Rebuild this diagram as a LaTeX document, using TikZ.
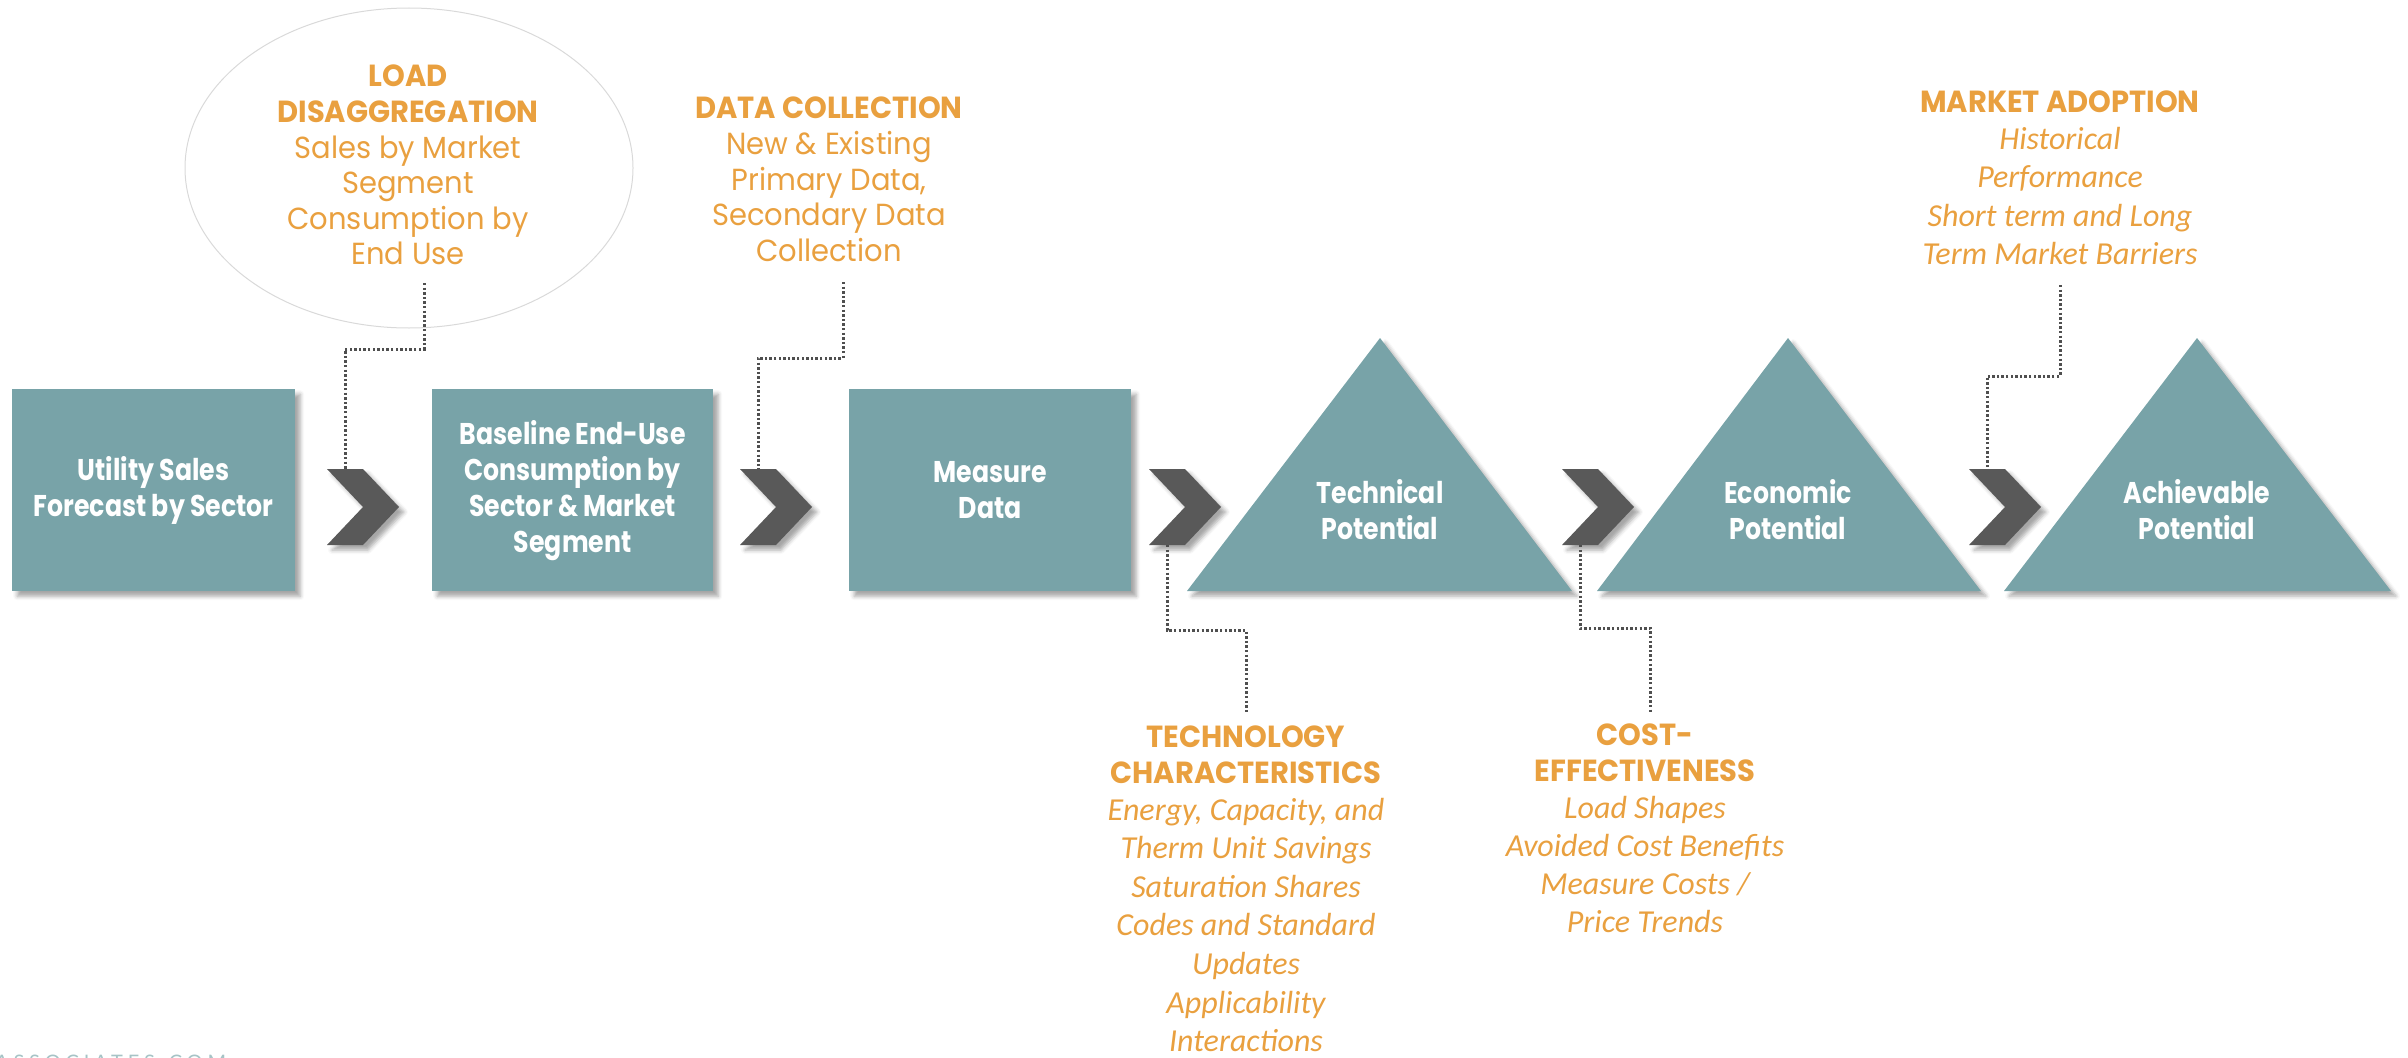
\documentclass[tikz,border=0pt]{standalone}
\usepackage{fontspec}
\setmainfont{Poppins}
\newfontfamily\gothic[FakeStretch=0.95]{Poppins}
\newfontfamily\gothicbox[FakeStretch=0.84]{Poppins}
\newfontfamily\calib{Carlito}
\newfontfamily\webfont{Lato}
\usetikzlibrary{shadows.blur,shapes.geometric}

\definecolor{tealbox}{HTML}{78A3A8}
\definecolor{chevgray}{HTML}{595959}
\definecolor{orangetxt}{HTML}{E9A03F}
\definecolor{dotgray}{HTML}{4F4F4F}
\definecolor{webteal}{HTML}{A6C3C6}

\tikzset{
  softshadow/.style={blur shadow={shadow xshift=5pt, shadow yshift=-5pt,
      shadow blur radius=4pt, shadow opacity=35}},
  stepbox/.style={fill=tealbox, softshadow, inner sep=0pt,
      minimum height=202pt, anchor=north west, align=center,
      text=white, font=\gothicbox\bfseries\fontsize{30}{36}\selectfont},
  potential/.style={fill=tealbox, softshadow},
  steplabel/.style={text=white, align=center, inner sep=0pt,
      font=\gothicbox\bfseries\fontsize{30}{36}\selectfont},
  chev/.style={fill=chevgray, softshadow},
  note/.style={text=orangetxt, align=center, inner sep=0pt, anchor=north,
      font=\gothic\fontsize{30.5}{35.6}\selectfont},
  conn/.style={draw=dotgray, line width=3pt, dash pattern=on 2.4pt off 2.2pt},
}

\newcommand{\hd}[1]{{\bfseries #1}}
\newcommand{\ital}{\calib\itshape\fontsize{32}{35.6}\selectfont}

\begin{document}
\begin{tikzpicture}[x=1pt,y=-1pt]
\useasboundingbox (0,0) rectangle (2408,1057);

% ---- rectangular stages
\node[stepbox, minimum width=283pt] (sales) at (12,389)
  {Utility Sales\\Forecast by Sector};
\node[stepbox, minimum width=281pt] (baseline) at (432,389)
  {Baseline End-Use\\Consumption by\\Sector \& Market\\Segment};
\node[stepbox, minimum width=282pt] (measure) at (849,389)
  {Measure\\Data};

% ---- potential triangles
\fill[potential] (1380,338) -- (1572,591) -- (1187,591) -- cycle;
\node[steplabel] (technical) at (1380,510) {Technical\\Potential};
\fill[potential] (1788,338) -- (1981,591) -- (1597,591) -- cycle;
\node[steplabel] (economic) at (1788,510) {Economic\\Potential};
\fill[potential] (2197,338) -- (2391,591) -- (2004,591) -- cycle;
\node[steplabel] (achievable) at (2197,510) {Achievable\\Potential};

% ---- chevrons between stages
\foreach \n/\x in {1/327,2/740,3/1149,4/1562,5/1969}{
  \coordinate (chv\n) at (\x,469);
  \fill[chev] (chv\n) -- ++(36,0) -- ++(36,38) -- ++(-36,38) -- ++(-36,0)
     -- ++(36,-38) -- cycle;
}
\coordinate (chv1top) at (345,469);
\coordinate (chv2top) at (758,469);
\coordinate (chv5top) at (1987,469);
\coordinate (chv3bot) at (1167,545);
\coordinate (chv4bot) at (1580,545);

% ---- input notes
\node[draw=black!15, line width=1pt, ellipse, minimum width=448pt,
      minimum height=320pt] (cloud) at (409,168) {};
\node[note] (loadnote) at (408,65)
  {\hd{LOAD}\\\hd{DISAGGREGATION}\\Sales by Market\\Segment\\Consumption by\\End Use};
\node[note] (datanote) at (829,97)
  {\hd{DATA COLLECTION}\\New \& Existing\\Primary Data,\\Secondary Data\\Collection};
\node[note] (marketnote) at (2060,91)
  {\hd{MARKET ADOPTION}\\[1pt]{\ital Historical}\\[2.8pt]{\ital Performance}\\[2.8pt]
   {\ital Short term and Long}\\[2.8pt]{\ital Term Market Barriers}};
\node[note] (technote) at (1246,726)
  {\hd{TECHNOLOGY}\\\hd{CHARACTERISTICS}\\[1pt]{\ital Energy, Capacity, and}\\[3pt]
   {\ital Therm Unit Savings}\\[3pt]{\ital Saturation Shares}\\[3pt]
   {\ital Codes and Standard}\\[3pt]{\ital Updates}\\[3pt]{\ital Applicability}\\[3pt]
   {\ital Interactions}};
\node[note] (costnote) at (1645,724)
  {\hd{COST-}\\\hd{EFFECTIVENESS}\\[1pt]{\ital Load Shapes}\\[2.5pt]
   {\ital Avoided Cost Benefits}\\[2.5pt]{\ital Measure Costs /}\\[2.5pt]{\ital Price Trends}};

% ---- dotted leaders
\coordinate (loadtail) at (424,283);
\coordinate (loadbend) at (345,349);
\draw[conn] (loadtail) |- (loadbend) -- (chv1top);
\coordinate (datatail) at (843,282);
\coordinate (databend) at (758,358);
\draw[conn] (datatail) |- (databend) -- (chv2top);
\coordinate (markettail) at (2060,285);
\coordinate (marketbend) at (1987,376);
\draw[conn] (markettail) |- (marketbend) -- (chv5top);
\coordinate (techbend) at (1246,630);
\coordinate (techhead) at (1246,714);
\draw[conn] (chv3bot) |- (techbend) -- (techhead);
\coordinate (costbend) at (1650,628);
\coordinate (costhead) at (1650,712);
\draw[conn] (chv4bot) |- (costbend) -- (costhead);

% ---- footer web address
\node[anchor=base west, inner sep=0pt, text=webteal,
      font=\webfont\addfontfeature{LetterSpace=24}\fontsize{20}{20}\selectfont]
  (web) at (-5,1069) {ASSOCIATES.COM};
\end{tikzpicture}
\end{document}
